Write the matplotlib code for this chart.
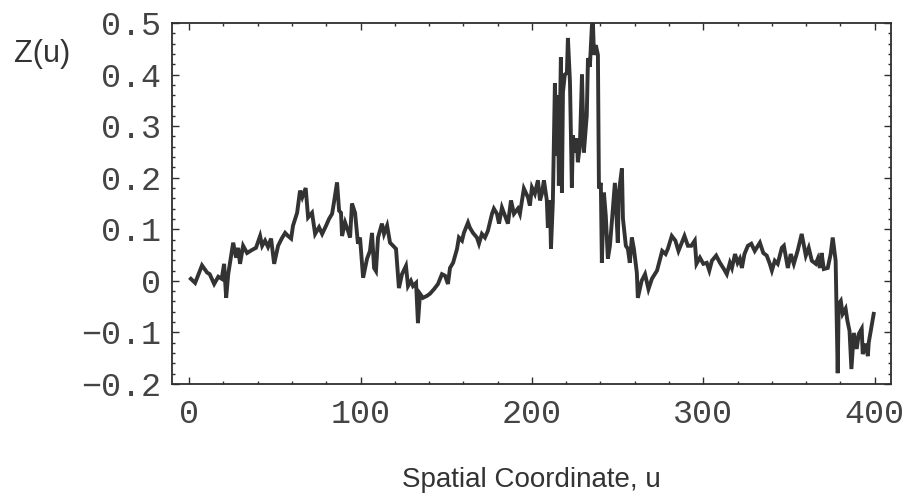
import matplotlib
matplotlib.use("Agg")
import matplotlib.pyplot as plt
from matplotlib.ticker import MultipleLocator, FixedLocator

# Spatial coordinate u and the sampled profile Z(u)
u = [
    1, 3.5, 7.5, 10.5, 12, 14.6, 17, 19, 20.4, 21.6, 22.8, 25.7, 27.4, 28.6, 29.7,
    31.5, 33.8, 36.7, 39, 41.4, 42.6, 44.3, 46, 47.8, 49.6, 51.9, 54, 56, 57.7,
    59.5, 60.6, 63, 64.7, 66, 68, 69.4, 71.7, 73.5,
    75.8, 77.6, 79.9, 81.6, 83.4, 84.5, 86.3, 87.5, 88.6, 89.2, 91, 92.7, 93.9,
    95, 96.8, 98.5, 99.7, 101.5, 103.8, 105.5, 106.7, 107.9, 109, 110.2, 112.5,
    113.7, 115.5, 117.2, 119, 120.7, 122.4, 124.2, 126.5, 127.7, 129.4, 130.6,
    132.4, 133.5, 134.7, 136.4, 138.8, 140.5, 142.9,
    145.2, 147.5, 149.3, 151, 152.2, 154, 156.3, 157.4, 159.2, 160.3, 162.7,
    163.8, 165.6, 167.9, 169.1, 170.8, 172.6, 174.3, 176.7, 177.8, 179.6, 180.8,
    182.5, 184.3, 186, 187.8, 189.5, 191.8, 193, 195.3, 197.7, 198.8, 200, 201.7,
    203.5, 204.7, 205.8, 207, 208.7, 209.3, 210.5, 211.1, 212.2,
    213.4, 214.6, 215.2, 215.7, 216.9, 217.5, 218.1, 219.2, 220.4, 221, 222.2,
    223.3, 223.9, 225.1, 226.2, 226.8, 228, 229.2, 230.3, 232, 232.7, 233.8, 235,
    235.6, 236.2, 237.3, 238.5, 239.1, 240.2, 240.8, 242, 243.1, 244.3, 245.5,
    246.6, 248.4, 250.1, 250.7, 252.5, 253.1, 254.8, 256, 257.1, 258.3, 259.5,
    261.2, 261.8, 264,
    266, 268, 270, 273, 276, 278, 279.3, 281.6, 283.7, 285.5, 287.4, 289, 291,
    293, 295, 296, 298, 300, 302, 303.5, 305, 307.5, 309.7, 312, 313.7, 315.5,
    316.7, 318.5, 320, 321.3, 322.5, 324, 326, 328, 330, 333, 335, 337, 338.8,
    340, 341.7,
    343.4, 345.8, 347, 349.3, 351, 352.8, 355, 357.4, 359.8, 361.5, 363.3, 365.6,
    366.8, 368, 369, 370.3, 372.6, 374.3, 375.5, 377.2, 378.4, 379, 380.2, 381.3,
    383, 384.1, 385.3, 386.4, 387.8, 389.5, 390.7, 392.4, 393, 394.8, 396, 396.5,
    397.7, 399.4,
]
z = [
    0.004, -0.004, 0.03, 0.016, 0.013, -0.006, 0.008, 0.004, 0.033, -0.033, 0.013,
    0.074, 0.045, 0.064, 0.033, 0.068, 0.054, 0.06, 0.064, 0.087, 0.068, 0.078,
    0.066, 0.082, 0.033, 0.068, 0.082, 0.093, 0.087, 0.082, 0.107, 0.132, 0.175,
    0.162, 0.18, 0.123, 0.132, 0.091,
    0.104, 0.091, 0.107, 0.12, 0.13, 0.152, 0.191, 0.136, 0.132, 0.087, 0.113,
    0.097, 0.084, 0.15, 0.132, 0.072, 0.084, 0.006, 0.043, 0.058, 0.093, 0.025,
    0.019, 0.084, 0.111, 0.091, 0.107, 0.074, 0.068, 0.062, -0.014, 0.013, 0.029,
    -0.01, 0.0, -0.01, -0.004, -0.082, -0.025, -0.033, -0.029, -0.025, -0.016,
    -0.006, 0.013, 0.01, -0.006, 0.025, 0.035, 0.062, 0.084, 0.078, 0.093, 0.113,
    0.103, 0.093, 0.084, 0.072, 0.091, 0.084, 0.097, 0.13, 0.14, 0.13, 0.111,
    0.142, 0.126, 0.111, 0.156, 0.13, 0.14, 0.13, 0.179, 0.162, 0.146, 0.181,
    0.169, 0.195, 0.156, 0.169, 0.195, 0.156, 0.103, 0.156, 0.062, 0.152,
    0.383, 0.243, 0.36, 0.185, 0.434, 0.171, 0.366, 0.4, 0.403, 0.471, 0.385,
    0.181, 0.282, 0.249, 0.276, 0.23, 0.263, 0.4, 0.249, 0.321, 0.432, 0.415,
    0.496, 0.5, 0.438, 0.457, 0.438, 0.179, 0.19, 0.035, 0.171, 0.126, 0.043,
    0.068, 0.113, 0.19, 0.074, 0.171, 0.218, 0.121, 0.068, 0.062, 0.035, 0.084,
    0.062, 0.016, -0.033, 0.0,
    0.013, -0.016, 0.004, 0.02, 0.058, 0.052, 0.062, 0.087, 0.078, 0.058, 0.074,
    0.087, 0.068, 0.068, 0.078, 0.033, 0.045, 0.033, 0.035, 0.02, 0.039, 0.049,
    0.035, 0.023, 0.013, 0.035, 0.025, 0.052, 0.035, 0.043, 0.025, 0.052, 0.068,
    0.072, 0.058, 0.074, 0.054, 0.049, 0.033, 0.02, 0.039,
    0.033, 0.064, 0.068, 0.025, 0.052, 0.033, 0.058, 0.091, 0.049, 0.064, 0.039,
    0.033, 0.043, 0.025, 0.054, 0.023, 0.025, 0.052, 0.084, 0.039, -0.179, -0.045,
    -0.039, -0.064, -0.054, -0.078, -0.097, -0.171, -0.101, -0.132, -0.103,
    -0.093, -0.142, -0.122, -0.146, -0.12, -0.097, -0.064,
]

x_ticks = [0, 100, 200, 300, 400]
y_ticks = [-0.2, -0.1, 0, 0.1, 0.2, 0.3, 0.4, 0.5]
y_tick_labels = ["-0.2", "-0.1", "0", "0.1", "0.2", "0.3", "0.4", "0.5"]

ink = "#2e2e2e"
mono = ["Liberation Mono", "DejaVu Sans Mono"]

fig = plt.figure(figsize=(9.04, 5.0), dpi=100)
ax = fig.add_axes([172 / 904, 1 - 384 / 500, (891 - 172) / 904, (384 - 23) / 500])

ax.plot(u, z, color="#333333", lw=2.8, solid_joinstyle="miter")

ax.set_xlim(-10, 409.5)
ax.set_ylim(-0.2, 0.5)

ax.xaxis.set_major_locator(FixedLocator(x_ticks))
ax.xaxis.set_minor_locator(MultipleLocator(20))
ax.yaxis.set_major_locator(FixedLocator(y_ticks))
ax.yaxis.set_minor_locator(MultipleLocator(0.02))
ax.set_yticklabels([s.replace("-", "\u2212") for s in y_tick_labels])

ax.tick_params(which="both", direction="in", top=True, right=True, color=ink, width=1.0)
ax.tick_params(which="major", length=5)
ax.tick_params(which="minor", length=2.5)
ax.tick_params(axis="x", which="major", pad=11)
ax.tick_params(axis="y", which="major", pad=8)

for lab in ax.get_xticklabels() + ax.get_yticklabels():
    lab.set_fontfamily(mono)
    lab.set_fontsize(24)
    lab.set_color("#444444")

for sp in ax.spines.values():
    sp.set_color(ink)
    sp.set_linewidth(1.3)

fig.text(42 / 904, 1 - 62 / 500, "Z(u)", family=["Liberation Sans", "DejaVu Sans"],
         fontsize=22, color="#333333", ha="center", va="baseline")
fig.text(531 / 904, 1 - 487 / 500, "Spatial Coordinate, u",
         family=["Liberation Sans", "DejaVu Sans"],
         fontsize=20, color="#333333", ha="center", va="baseline")

fig.savefig("out.png", dpi=100, facecolor="white")
